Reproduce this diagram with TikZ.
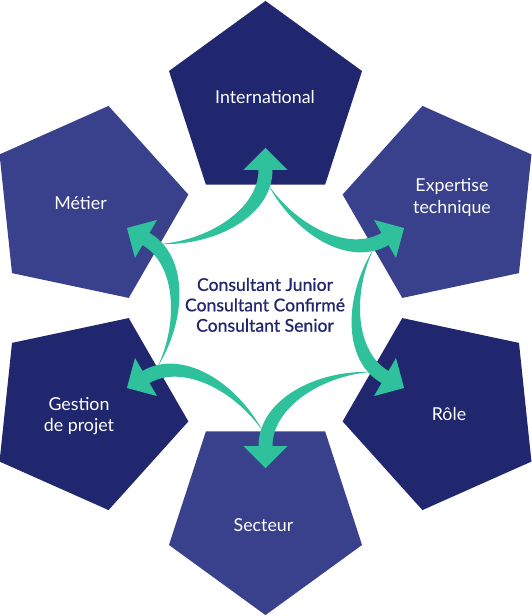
\documentclass[tikz,border=0pt]{standalone}
\usepackage{fontspec}
\setmainfont{Lato}
\newfontfamily\corefont{Lato}[FakeBold=0.8]
\definecolor{navydark}{RGB}{32,39,110}
\definecolor{navylight}{RGB}{57,64,140}
\definecolor{arrowgreen}{RGB}{46,193,155}
\begin{document}
\begin{tikzpicture}[x=1pt,y=1pt,
  lbl/.style={text=white, font=\fontsize{17.8}{21.3}\selectfont, align=center, anchor=base, inner sep=0pt},
  coretext/.style={text=navydark, font=\corefont\fontsize{17.6}{20.4}\selectfont, align=center, anchor=base, inner sep=0pt},
  greenarrow/.style={fill=arrowgreen}]
\useasboundingbox (-265.5,-308) rectangle (265.5,308);
% pentagons
\foreach \a/\c/\n in {90/navydark/pI,30/navylight/pE,-30/navydark/pR,-90/navylight/pS,-150/navydark/pG,150/navylight/pM}{
  \coordinate (\n) at (\a:205.6);
  \fill[\c, shift={(\a:205.6)}] (\a:101.5) -- (\a+72:101.5) -- (\a+144:101.5) -- (\a+216:101.5) -- (\a+288:101.5) -- cycle;
}
% arrows
\foreach \r in {0,-60,-120,-180,-240,-300}{
  \fill[greenarrow, rotate=\r] (-105.5,64) .. controls (-55,68) and (-7,100) .. (-7,138)
    -- (-22,138) -- (0,160) -- (22,138) -- (7,138)
    .. controls (7,92) and (-50,62) .. cycle;
}
% labels (base anchor = baseline of last line)
\node[lbl] (lInt) at (-0.5,204.7) {International};
\node[lbl] (lMet) at (-185,98.7) {Métier};
\node[lbl] (lExp) at (186.5,94.7) {Expertise\\technique};
\node[lbl] (lRol) at (183.5,-112) {Rôle};
\node[lbl] (lGes) at (-186.5,-123.7) {Gestion\\de projet};
\node[lbl] (lSec) at (-2,-223) {Secteur};
\node[coretext] (core) at (-0.5,-23.7) {Consultant Junior\\Consultant Confirmé\\Consultant Senior};
\end{tikzpicture}
\end{document}
